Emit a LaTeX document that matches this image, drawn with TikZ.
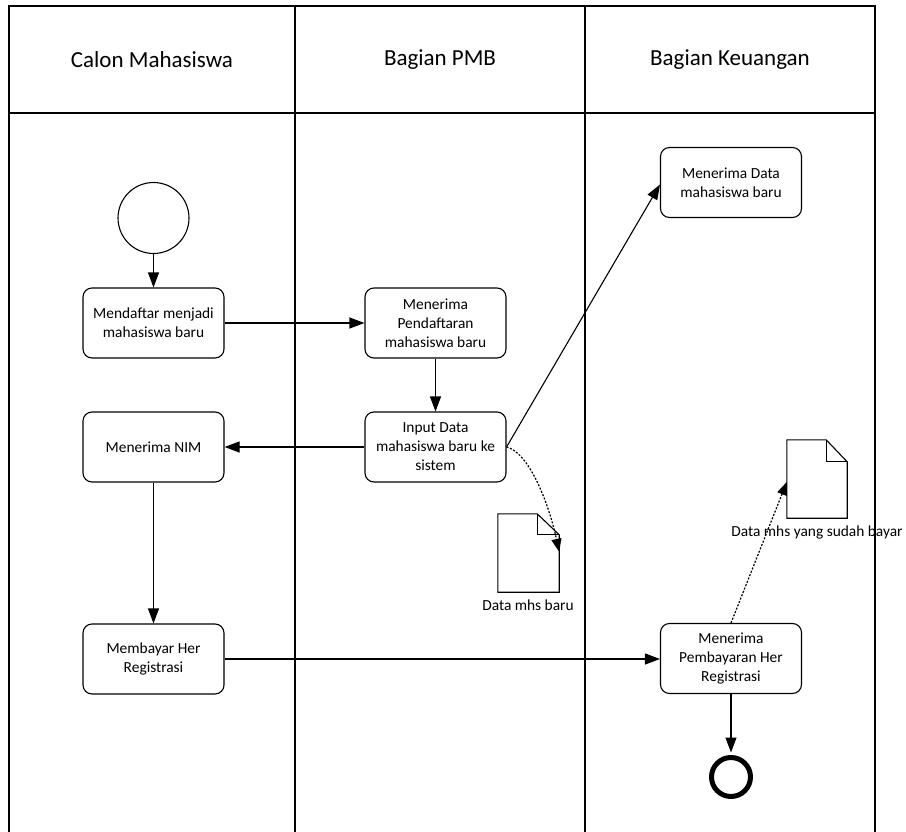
\documentclass[tikz,border=0pt]{standalone}
\usepackage{fontspec}
\setmainfont{Carlito}
\usetikzlibrary{arrows.meta}

\begin{document}
\begin{tikzpicture}[x=1pt,y=-1pt,
  lane/.style={line width=1.4pt},
  hdr/.style={font=\fontsize{23}{27}\selectfont},
  act/.style={draw, line width=1.1pt, rounded corners=9pt, minimum width=141pt,
    minimum height=70pt, align=center, inner sep=0pt,
    font=\fontsize{15.4}{19}\selectfont},
  docbox/.style={minimum width=61pt, minimum height=78pt, inner sep=0pt},
  doclabel/.style={font=\fontsize{15.4}{19}\selectfont, inner sep=0pt},
  flow/.style={line width=1.1pt, -{Triangle[length=15pt,width=11pt]}},
  assoc/.style={line width=1.2pt, dash pattern=on 2pt off 1.6pt,
    -{Triangle[length=13pt,width=10pt]}},
]
\useasboundingbox (0,0) rectangle (906,832);

% swimlanes
\draw[lane] (9,832) -- (9,6) -- (875,6) -- (875,832);
\draw[lane] (295,6) -- (295,832);
\draw[lane] (585,6) -- (585,832);
\draw[lane] (9,113) -- (875,113);
\node[hdr] (h1) at (152,59.5) {Calon Mahasiswa};
\node[hdr] (h2) at (440,59.5) {Bagian PMB};
\node[hdr] (h3) at (730,59.5) {Bagian Keuangan};

% events
\node[draw, circle, line width=1.1pt, minimum size=71pt, inner sep=0pt] (start) at (153.5,218) {};
\node[draw, circle, line width=5pt, minimum size=39pt, inner sep=0pt] (stop) at (731,777) {};

% activities
\node[act] (b1) at (153.5,323) {Mendaftar menjadi\\mahasiswa baru};
\node[act] (b2) at (435.5,323) {Menerima\\Pendaftaran\\mahasiswa baru};
\node[act] (b3) at (435.5,447) {Input Data\\mahasiswa baru ke\\sistem};
\node[act] (b4) at (153.5,447) {Menerima NIM};
\node[act] (b5) at (153.5,659) {Membayar Her\\Registrasi};
\node[act] (b6) at (731,658.5) {Menerima\\Pembayaran Her\\Registrasi};
\node[act] (b7) at (731,182.5) {Menerima Data\\mahasiswa baru};

% data objects
\node[docbox] (d1) at (528.5,553) {};
\draw[line width=1.1pt] (d1.north west) -- ([xshift=-22pt]d1.north east)
  -- ([yshift=-21pt]d1.north east) -- (d1.south east) -- (d1.south west) -- cycle;
\draw[line width=1.1pt] ([xshift=-22pt]d1.north east) |- ([yshift=-21pt]d1.north east);
\node[doclabel] (l1) at (528,605) {Data mhs baru};

\node[docbox, minimum width=60pt] (d2) at (817,479) {};
\draw[line width=1.1pt] (d2.north west) -- ([xshift=-21pt]d2.north east)
  -- ([yshift=-22pt]d2.north east) -- (d2.south east) -- (d2.south west) -- cycle;
\draw[line width=1.1pt] ([xshift=-21pt]d2.north east) |- ([yshift=-22pt]d2.north east);
\node[doclabel] (l2) at (817,532) {Data mhs yang sudah bayar};

% sequence flows
\draw[flow] (start.south) -- (b1.north);
\draw[flow] (b1.east) -- (b2.west);
\draw[flow] (b2.south) -- (b3.north);
\draw[flow] (b3.west) -- (b4.east);
\draw[flow] (b3.east) -- ([yshift=-2pt]b7.west);
\draw[flow] (b4.south) -- (b5.north);
\draw[flow] (b5.east) -- (b5.east -| b6.west);
\draw[flow, shorten >=2.5pt] (b6.south) -- (stop.north);

% data associations
\draw[assoc] (b3.east) .. controls (528,452) and (548,500) .. ([yshift=-38pt]d1.north east);
\draw[assoc] (b6.north) -- ([yshift=-3pt]d2.west);
\end{tikzpicture}
\end{document}
